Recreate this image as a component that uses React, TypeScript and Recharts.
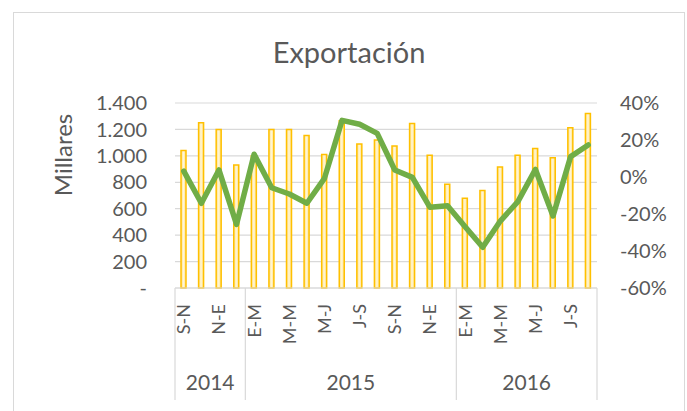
import React from 'react';
import {
  ComposedChart,
  Bar,
  Line,
  XAxis,
  YAxis,
  CartesianGrid,
} from 'recharts';

const months = [
  'S-N', 'O-D', 'N-E', 'D-F',
  'E-M', 'F-A', 'M-M', 'A-J', 'M-J', 'J-A', 'J-S', 'A-O', 'S-N', 'O-D', 'N-E', 'D-F',
  'E-M', 'F-A', 'M-M', 'A-J', 'M-J', 'J-A', 'J-S', 'A-O',
];
const years = [
  '2014', '2014', '2014', '2014',
  '2015', '2015', '2015', '2015', '2015', '2015', '2015', '2015', '2015', '2015', '2015', '2015',
  '2016', '2016', '2016', '2016', '2016', '2016', '2016', '2016',
];
const exportValues = [
  1040, 1250, 1200, 930,
  1000, 1200, 1200, 1155, 1010, 1265, 1090, 1120, 1075, 1245, 1005, 785,
  680, 737, 915, 1005, 1056, 985, 1212, 1320,
];
const growthValues = [
  3.2, -14.2, 3.8, -25.6,
  12.3, -5.8, -9.2, -14.2, -0.7, 30.6, 28.5, 23.6, 3.8, -0.2, -16.4, -15.5,
  -26.9, -38, -23.8, -13.3, 4.1, -21.1, 11, 17.3,
];
const leftTicks = [0, 200, 400, 600, 800, 1000, 1200, 1400];
const rightTicks = [-60, -40, -20, 0, 20, 40];

const data = months.map((m, i) => ({
  key: `${years[i]}-${i}`,
  month: m,
  year: years[i],
  exp: exportValues[i],
  growth: growthValues[i],
}));

const FONT = 'Lato, "Open Sans", sans-serif';
const TEXT = '#595959';
const GRID = '#D9D9D9';

const fmtLeft = (v: number) => (v === 0 ? '-' : v.toLocaleString('de-DE'));
const fmtRight = (v: number) => `${v}%`;

function groupCenterIndex(i: number): boolean {
  const y = years[i];
  const first = years.indexOf(y);
  const last = years.lastIndexOf(y);
  const n = last - first + 1;
  return i === first + Math.floor(n / 2) - (n % 2 === 0 ? 1 : 0);
}

function CategoryTick(props: any) {
  const { x, y, payload } = props;
  const i: number = payload.index;
  const off: number = payload.offset || 0;
  const axisY = y - 8;
  const els: React.ReactNode[] = [];
  if (i % 2 === 0) {
    els.push(
      <text
        key="m"
        x={x}
        y={axisY + 16}
        transform={`rotate(-90 ${x} ${axisY + 16})`}
        textAnchor="end"
        dy="0.36em"
        fill={TEXT}
        fontSize={18}
        fontFamily={FONT}
      >
        {months[i]}
      </text>
    );
  }
  if (i === 0 || years[i] !== years[i - 1]) {
    els.push(<line key="s" x1={x - off} x2={x - off} y1={axisY} y2={axisY + 112} stroke={GRID} strokeWidth={1.2} />);
  }
  if (i === years.length - 1) {
    els.push(<line key="e" x1={x + off} x2={x + off} y1={axisY} y2={axisY + 112} stroke={GRID} strokeWidth={1.2} />);
  }
  if (groupCenterIndex(i)) {
    const n = years.lastIndexOf(years[i]) - years.indexOf(years[i]) + 1;
    const cx = n % 2 === 0 ? x + off : x;
    els.push(
      <text key="y" x={cx} y={axisY + 102} textAnchor="middle" fill={TEXT} fontSize={21} fontFamily={FONT}>
        {years[i]}
      </text>
    );
  }
  return <g>{els}</g>;
}

export default function App() {
  return (
    <div style={{ position: 'fixed', left: 0, top: 0, width: 687, height: 411, overflow: 'hidden', background: '#fff' }}>
      <div
        style={{
          position: 'absolute',
          left: 13,
          top: 12,
          width: 672,
          height: 420,
          border: `1px solid ${GRID}`,
          boxSizing: 'border-box',
        }}
      />
      <div style={{ position: 'absolute', left: 0, top: 0 }}>
        <ComposedChart
          width={687}
          height={411}
          data={data}
          margin={{ top: 103, right: 0, bottom: 0, left: 0 }}
          barCategoryGap={0}
        >
          <defs>
            <linearGradient id="barFill" x1="0" y1="0" x2="1" y2="0">
              <stop offset="0%" stopColor="#FFE080" />
              <stop offset="50%" stopColor="#FFF6D8" />
              <stop offset="100%" stopColor="#FFE080" />
            </linearGradient>
          </defs>
          <CartesianGrid vertical={false} stroke={GRID} strokeWidth={1.2} yAxisId="left" />
          <XAxis
            dataKey="key"
            height={123}
            interval={0}
            tick={<CategoryTick />}
            tickLine={false}
            axisLine={{ stroke: GRID, strokeWidth: 1.2 }}
          />
          <YAxis
            yAxisId="left"
            orientation="left"
            width={175}
            domain={[0, 1400]}
            ticks={leftTicks}
            tickFormatter={fmtLeft}
            axisLine={false}
            tickLine={false}
            tickMargin={22}
            tick={{ fill: TEXT, fontSize: 20, fontFamily: FONT }}
            interval={0}
          />
          <YAxis
            yAxisId="right"
            orientation="right"
            width={90}
            domain={[-60, 40]}
            ticks={rightTicks}
            tickFormatter={fmtRight}
            axisLine={false}
            tickLine={false}
            tickMargin={17}
            tick={{ fill: TEXT, fontSize: 20, fontFamily: FONT, textAnchor: 'start' }}
            interval={0}
          />
          <Bar
            yAxisId="left"
            dataKey="exp"
            barSize={5}
            fill="url(#barFill)"
            stroke="#FFC000"
            strokeWidth={1.5}
            isAnimationActive={false}
          />
          <Line
            yAxisId="right"
            dataKey="growth"
            type="linear"
            stroke="#70AD47"
            strokeWidth={5.5}
            dot={false}
            activeDot={false}
            strokeLinejoin="round"
            strokeLinecap="round"
            isAnimationActive={false}
          />
        </ComposedChart>
      </div>
      <svg width={687} height={411} style={{ position: 'absolute', left: 0, top: 0, pointerEvents: 'none' }}>
        <text x={349} y={63} textAnchor="middle" fill={TEXT} fontSize={29} fontFamily={FONT}>
          Exportación
        </text>
        <text
          x={63}
          y={155}
          transform="rotate(-90 63 155)"
          textAnchor="middle"
          dy="0.36em"
          fill={TEXT}
          fontSize={24}
          fontFamily={FONT}
        >
          Millares
        </text>
      </svg>
    </div>
  );
}
